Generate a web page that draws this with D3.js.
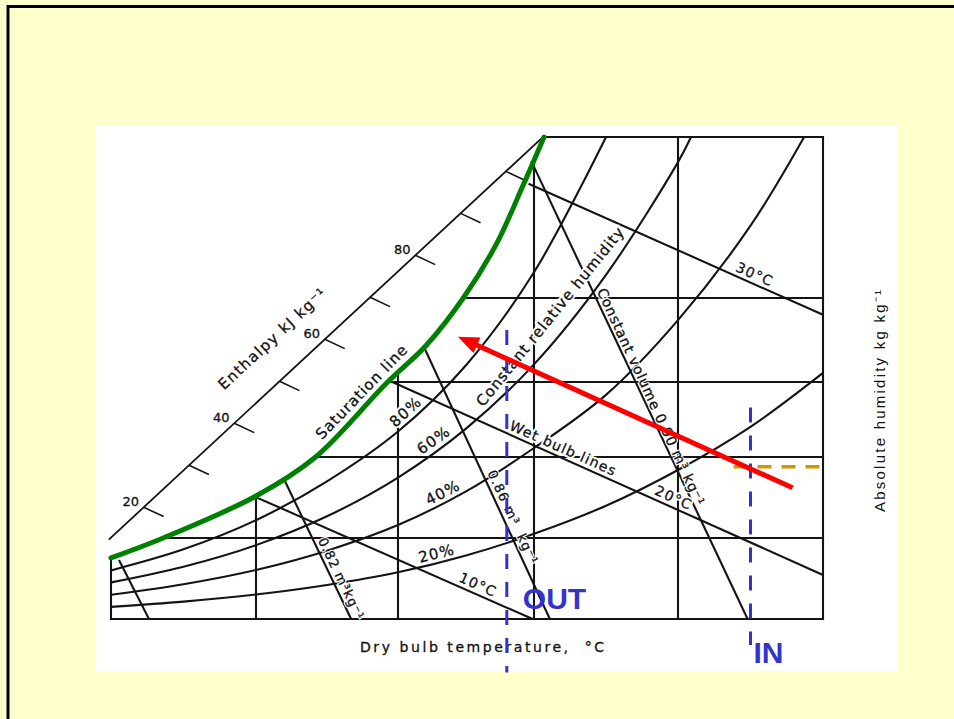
<!DOCTYPE html>
<html>
<head>
<meta charset="utf-8">
<script src="https://cdn.jsdelivr.net/npm/d3@7"></script>
<style>
  html, body { margin: 0; padding: 0; background: #ffffcc; overflow: hidden; }
  svg { display: block; }
  text { font-family: "DejaVu Sans", sans-serif; fill: #111; }
</style>
</head>
<body>
<svg id="chart" width="954" height="719"></svg>
<script>
// ---- Grid: dry-bulb temperature (°C) and absolute humidity (kg/kg) ----
const tempTicks = [0, 10, 20, 30, 40, 50];
const humidityTicks = [0, 0.005, 0.010, 0.015, 0.020, 0.030];

// Saturation line (100 % RH): [temperature, humidity]
const saturation = [[0, 0.00377], [3.6, 0.0050], [10, 0.00759], [14.2, 0.0100], [19.2, 0.01493],
                    [22.1, 0.0172], [24.8, 0.0200], [27.2, 0.0233], [29.2, 0.0270], [30.7, 0.0300]];

// Constant relative humidity curves
const rhLevels = ["80%", "60%", "40%", "20%"];
const rh80 = [[0, .0030], [5, .0043], [10, .0061], [15, .0085], [20, .0117], [25, .0160], [30, .0216], [35, .0300]];
const rh60 = [[0, .00226], [5, .00323], [10, .00456], [15, .00634], [20, .00873], [25, .01189], [30, .01605],
              [35, .02144], [40, .02844], [40.9, .0300]];
const rh40 = [[0, .00150], [5, .00215], [10, .00303], [15, .00422], [20, .00580], [25, .00788], [30, .01060],
              [35, .01414], [40, .01868], [45, .02449], [48.7, .0300]];
const rh20 = [[0, .00075], [5, .00107], [10, .00151], [15, .00210], [20, .00288], [25, .00392], [30, .00526],
              [35, .00699], [40, .00920], [45, .01201], [50, .01554]];
const rhLabelTemps = [21.0, 23.0, 23.6, 23.0];

// Wet bulb lines: start on saturation, end on frame
const wetBulbNames = ["10°C", "20°C", "30°C"];
const wetBulb10 = [[9.8, 0.0076], [29.9, 0]];
const wetBulb20 = [[19.6, 0.0150], [50, 0.00272]];
const wetBulb30 = [[29.6, 0.0271], [50, 0.0190]];
const wetBulbLabelTemps = [24.3, 38.2, 43.8];

// Constant specific volume lines (m³/kg)
const volumeNames = ["0.78", "0.82", "0.86", "0.90"];
const volume078 = [[0.55, 0.00364], [2.62, 0]];
const volume082 = [[12.0, 0.00858], [16.7, 0]];
const volume086 = [[21.9, 0.0171], [31.1, 0]];
const volume090 = [[29.8, 0.0285], [44.8, 0]];

// Enthalpy scale along the diagonal axis (kJ/kg)
const enthalpyAxis = [[-0.15, 0.0049], [30.5, 0.0299]];
const enthalpyAxisRange = [12.3, 107.8];
const enthalpyTicks = [20, 30, 40, 50, 60, 70, 80, 90, 100];
const enthalpyLabels = [20, 40, 60, 80];

// Air states: inlet / outlet and the cooling process
const inletTemp = 45.0;
const outletTemp = 28.0;
const inletHumidity = 0.0094;
const processPath = [[47.9, 0.0081], [24.4, 0.0177]];
const inletDash = [0.0133, -0.0016];
const outletDash = [0.0181, -0.0033];

// ---------------------------------------------------------------------------
const svg = d3.select("#chart");

// slide background, frame and white panel
svg.append("rect").attr("width", 954).attr("height", 719).attr("fill", "#ffffcc");
svg.append("path").attr("d", "M8,719V6.5H954").attr("fill", "none")
   .attr("stroke", "#000").attr("stroke-width", 3);
svg.append("rect").attr("x", 96).attr("y", 126).attr("width", 801).attr("height", 545).attr("fill", "#fff");

const x = d3.scaleLinear().domain(tempTicks).range([111, 256, 398, 534, 678, 823]);
const y = d3.scaleLinear().domain(humidityTicks).range([619, 538, 457, 382, 298, 137]);

const satW = d3.scaleLinear().domain(saturation.map(d => d[0])).range(saturation.map(d => d[1])).clamp(true);
const satT = d3.scaleLinear().domain(saturation.map(d => d[1])).range(saturation.map(d => d[0])).clamp(true);

const straight = d3.line().x(d => x(d[0])).y(d => y(d[1]));
const smooth = d3.line().x(d => x(d[0])).y(d => y(d[1])).curve(d3.curveCatmullRom.alpha(0.5));

const ink = "#141414";
const lineW = 2.1;
const chart = svg.append("g");

// grid bounded by the saturation line
const gridLines = [
  ...tempTicks.map(t => [[t, satW(t)], [t, 0]]),
  ...humidityTicks.map(w => [[satT(w), w], [50, w]])
];
chart.append("g").selectAll("path").data(gridLines).join("path")
  .attr("d", straight).attr("fill", "none").attr("stroke", ink).attr("stroke-width", lineW)
  .attr("stroke-linecap", "square");

// relative humidity curves
const rhCurves = [rh80, rh60, rh40, rh20];
chart.append("g").selectAll("path").data(rhCurves).join("path")
  .attr("d", smooth).attr("fill", "none").attr("stroke", ink).attr("stroke-width", lineW);

// wet bulb and volume lines
const wetBulbLines = [wetBulb10, wetBulb20, wetBulb30];
const volumeLines = [volume078, volume082, volume086, volume090];
chart.append("g").selectAll("path").data([...wetBulbLines, ...volumeLines]).join("path")
  .attr("d", straight).attr("fill", "none").attr("stroke", ink).attr("stroke-width", lineW);

// enthalpy axis with ticks
const a0 = [x(enthalpyAxis[0][0]), y(enthalpyAxis[0][1])];
const a1 = [x(enthalpyAxis[1][0]), y(enthalpyAxis[1][1])];
const hPos = d3.scaleLinear().domain(enthalpyAxisRange).range([0, 1]);
const hPoint = h => d3.interpolate(a0, a1)(hPos(h));
chart.append("line").attr("x1", a0[0]).attr("y1", a0[1]).attr("x2", a1[0]).attr("y2", a1[1])
  .attr("stroke", ink).attr("stroke-width", 1.8);
const tickAng = 25 * Math.PI / 180, tickLen = 22;
chart.append("g").selectAll("line").data(enthalpyTicks).join("line")
  .attr("x1", h => hPoint(h)[0]).attr("y1", h => hPoint(h)[1])
  .attr("x2", h => hPoint(h)[0] + tickLen * Math.cos(tickAng))
  .attr("y2", h => hPoint(h)[1] + tickLen * Math.sin(tickAng))
  .attr("stroke", ink).attr("stroke-width", 1.6);
chart.append("g").selectAll("text").data(enthalpyLabels).join("text")
  .attr("x", h => hPoint(h)[0] - 13).attr("y", h => hPoint(h)[1] - 6)
  .attr("text-anchor", "middle").attr("dominant-baseline", "central")
  .attr("stroke", ink).attr("stroke-width", 0.3)
  .style("font-size", "13px").text(d => d);

const axisAngle = Math.atan2(a1[1] - a0[1], a1[0] - a0[0]) * 180 / Math.PI;
const eLab = hPoint(42.4);
chart.append("text").attr("transform", `translate(${eLab[0]},${eLab[1]}) rotate(${axisAngle})`)
  .attr("dy", -31).attr("stroke", ink).attr("stroke-width", 0.3)
  .style("font-size", "15px").style("letter-spacing", "1.3px")
  .text("Enthalpy kJ kg⁻¹");

// ---- labels placed along lines and curves ----
const halos = svg.append("g");
const labels = svg.append("g");
function pointOn(pts, t) {
  const s = d3.scaleLinear().domain(pts.map(d => d[0])).range(pts.map(d => d[1]));
  return [x(t), y(s(t))];
}
function placeLabel(pts, t, txt, o) {
  const p = pointOn(pts, t);
  let a = o.angle;
  if (a == null) {
    const p0 = pointOn(pts, t - 1.5), p1 = pointOn(pts, t + 1.5);
    a = Math.atan2(p1[1] - p0[1], p1[0] - p0[0]) * 180 / Math.PI;
  }
  [halos, labels].forEach((layer, k) => {
    const el = layer.append("text")
      .attr("transform", `translate(${p[0]},${p[1]}) rotate(${a})`)
      .attr("dy", o.dy ?? -4).attr("text-anchor", o.anchor || "start")
      .style("font-size", (o.size || 13) + "px").style("letter-spacing", (o.spacing ?? 1.5) + "px")
      .style("white-space", "pre").text(txt);
    if (k === 0) el.attr("stroke", "#fff").attr("stroke-width", o.halo ?? 4).style("fill", "#fff");
    else el.attr("stroke", ink).attr("stroke-width", 0.3);
  });
}

rhCurves.forEach((c, i) => placeLabel(c, rhLabelTemps[i], rhLevels[i], { anchor: "middle", size: 15, spacing: 1.2, dy: -4 }));
wetBulbLines.forEach((l, i) => placeLabel(l, wetBulbLabelTemps[i], wetBulbNames[i], { size: 14, spacing: 1.2 }));
placeLabel(wetBulb20, 28.0, "Wet bulb lines", { size: 14, spacing: 1.2 });
placeLabel(volume082, 14.1, volumeNames[1] + " m³kg⁻¹", { size: 13, spacing: 1.0, dy: -4, halo: 2.5 });
placeLabel(volume086, 26.3, volumeNames[2] + " m³  kg⁻¹", { size: 13, spacing: 1.2, dy: -4, halo: 2.5 });
placeLabel(volume090, 34.1, "Constant volume " + volumeNames[3] + " m³ kg⁻¹", { size: 14, spacing: 0.9, dy: -4, halo: 2.5 });
placeLabel(rh60, 26.5, "Constant relative humidity", { angle: -51, size: 15, spacing: 1.0, dy: -4 });
placeLabel(saturation, 15.0, "Saturation line", { angle: -46, size: 15, spacing: 1.0, dy: -7 });

// axis titles
svg.append("text").attr("x", 360).attr("y", 652).attr("textLength", 244).attr("lengthAdjust", "spacing")
  .attr("stroke", ink).attr("stroke-width", 0.3)
  .style("font-size", "14px").style("white-space", "pre").text("Dry bulb temperature,  °C");
svg.append("text").attr("transform", "translate(885,401) rotate(-90)").attr("text-anchor", "middle")
  .attr("textLength", 222).attr("lengthAdjust", "spacing")
  .style("font-family", "'Liberation Sans', Arial, sans-serif").style("font-size", "15px")
  .text("Absolute humidity kg kg⁻¹");

// ---- overlays: saturation highlight, process arrow, inlet/outlet markers ----
const over = svg.append("g");
over.append("path").attr("d", smooth(saturation)).attr("fill", "none")
  .attr("stroke", "#008000").attr("stroke-width", 5).attr("stroke-linecap", "round");

over.append("line")
  .attr("x1", x(inletTemp) - 17).attr("x2", x(50)).attr("y1", y(inletHumidity)).attr("y2", y(inletHumidity))
  .attr("stroke", "#cc9900").attr("stroke-width", 3.5).attr("stroke-dasharray", "14,10");

[[outletTemp, outletDash], [inletTemp, inletDash]].forEach(([t, w]) => {
  over.append("line").attr("x1", x(t)).attr("x2", x(t)).attr("y1", y(w[0])).attr("y2", y(w[1]))
    .attr("stroke", "#3333cc").attr("stroke-width", 3).attr("stroke-dasharray", "15,13");
});

const p0 = [x(processPath[0][0]), y(processPath[0][1])];
const p1 = [x(processPath[1][0]), y(processPath[1][1])];
const len = Math.hypot(p1[0] - p0[0], p1[1] - p0[1]);
const u = [(p1[0] - p0[0]) / len, (p1[1] - p0[1]) / len];
const n = [-u[1], u[0]];
const headL = 21, headW = 8.5;
over.append("line").attr("x1", p0[0]).attr("y1", p0[1])
  .attr("x2", p1[0] - u[0] * headL * 0.8).attr("y2", p1[1] - u[1] * headL * 0.8)
  .attr("stroke", "#ff0000").attr("stroke-width", 5);
over.append("path").attr("fill", "#ff0000").attr("d",
  `M${p1[0]},${p1[1]}L${p1[0] - u[0] * headL + n[0] * headW},${p1[1] - u[1] * headL + n[1] * headW}` +
  `L${p1[0] - u[0] * headL - n[0] * headW},${p1[1] - u[1] * headL - n[1] * headW}Z`);

over.append("text").attr("x", x(outletTemp) + 16).attr("y", y(0.0006))
  .style("font-family", "'Liberation Sans', Arial, sans-serif").style("font-weight", "bold")
  .style("font-size", "30px").style("fill", "#3333cc").text("OUT");
over.append("text").attr("x", x(inletTemp) + 3).attr("y", y(-0.0027))
  .style("font-family", "'Liberation Sans', Arial, sans-serif").style("font-weight", "bold")
  .style("font-size", "30px").style("fill", "#3333cc").text("IN");
</script>
</body>
</html>
